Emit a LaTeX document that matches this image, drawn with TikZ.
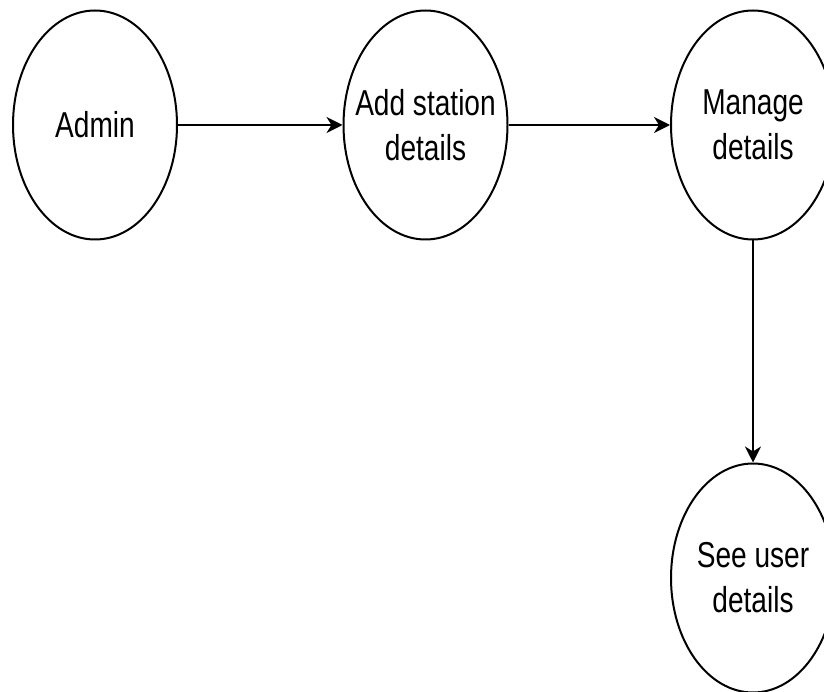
\documentclass[tikz,border=0pt]{standalone}
\usepackage{fontspec}
\setmainfont{Liberation Sans}[FakeStretch=0.78]
\usetikzlibrary{shapes.geometric,arrows.meta}
\begin{document}
\begin{tikzpicture}[x=1pt,y=-1pt,
  proc/.style={ellipse,draw,line width=2pt,minimum width=164pt,minimum height=229pt,inner xsep=-25pt,inner ysep=0pt,
    align=center,font=\fontsize{36}{45}\selectfont},
  flow/.style={line width=2pt,-{Stealth[length=16pt,width=16pt,inset=5pt]}}]
\useasboundingbox (0,0) rectangle (824,692);
\node[proc] (admin) at (95,125) {Admin};
\node[proc] (add) at (425.5,125) {Add station\\details};
\node[proc] (manage) at (753,125) {Manage\\details};
\node[proc] (see) at (753,578) {See user\\details};
\draw[flow] (admin) -- (add);
\draw[flow] (add) -- (manage);
\draw[flow] (manage) -- (see);
\end{tikzpicture}
\end{document}
